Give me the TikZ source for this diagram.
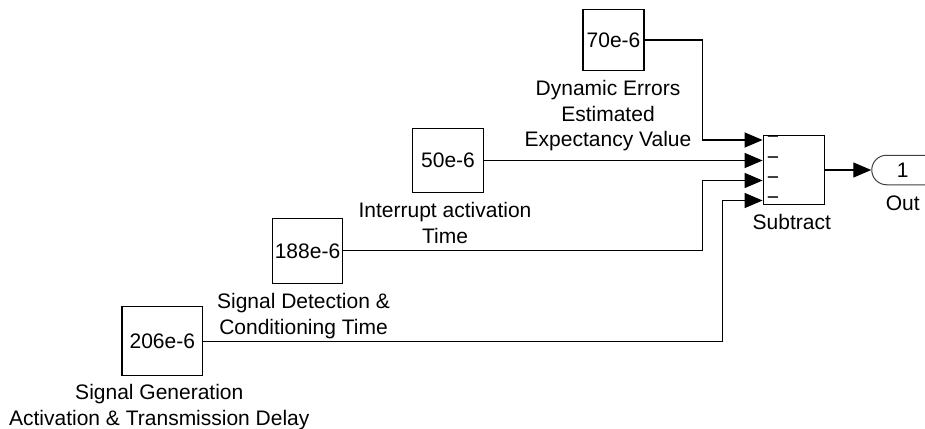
\documentclass[tikz,border=0pt]{standalone}
\usepackage{fontspec}
\setmainfont{Liberation Sans}
\usetikzlibrary{arrows.meta,calc,shapes.misc}
\begin{document}
\begin{tikzpicture}[x=1pt,y=-1pt,
  txt/.style={font=\fontsize{21}{25.6}\selectfont, text=black},
  blk/.style={txt, draw, line width=1.4pt, inner sep=0pt},
  lbl/.style={txt, align=center, anchor=north, inner sep=0pt},
  sig/.style={line width=1.3pt, -{Triangle[length=18pt,width=15pt]}},
  sgn/.style={txt, inner sep=0pt},
  port/.style={txt, draw=black!75, line width=1pt, shape=rounded rectangle,
    rounded rectangle right arc=none, minimum width=60pt,
    minimum height=29.5pt, inner sep=0pt}]

% canvas
\path[use as bounding box] (0,0) rectangle (925,428);
\fill[white] (0,0) rectangle (925,428);
\clip (0,0) rectangle (925,428);

% constant blocks
\node[blk, minimum width=61pt,   minimum height=61pt]   (c70)  at (613.5,40)    {70e-6};
\node[blk, minimum width=70.6pt, minimum height=64.4pt] (c50)  at (448,160.5)   {50e-6};
\node[blk, minimum width=70.4pt, minimum height=65pt]   (c188) at (307.5,250.8) {188e-6};
\node[blk, minimum width=80.7pt, minimum height=69pt]   (c206) at (162.3,341.2) {206e-6};

% block names
\node[lbl] (c70lbl)  at ([xshift=-5.5pt,yshift=-9pt]c70.south)  {Dynamic Errors\\Estimated\\Expectancy Value};
\node[lbl] (c50lbl)  at ([xshift=-3pt,yshift=-9pt]c50.south)    {Interrupt activation\\Time};
\node[lbl] (c188lbl) at ([xshift=-4pt,yshift=-9pt]c188.south)   {Signal Detection \&\\Conditioning Time};
\node[lbl] (c206lbl) at ([xshift=-3pt,yshift=-8pt]c206.south)   {Signal Generation\\Activation \& Transmission Delay};

% subtract block with its four inputs
\node[blk, minimum width=61pt, minimum height=68.5pt] (sub) at (793.8,170) {};
\node[lbl] (sublbl) at ([xshift=-2pt,yshift=-9.5pt]sub.south) {Subtract};
\coordinate (in1) at (sub.west |- 0,140);
\coordinate (in2) at (sub.west |- c50.east);
\coordinate (in3) at (sub.west |- 0,180.5);
\coordinate (in4) at (sub.west |- 0,200.5);
\node[sgn] (m1) at ([xshift=10.5pt]in1) {−};
\node[sgn] (m2) at ([xshift=10.5pt]in2) {−};
\node[sgn] (m3) at ([xshift=10.5pt]in3) {−};
\node[sgn] (m4) at ([xshift=10.5pt]in4) {−};

% output port
\node[port] (out) at (902.7,170) {1};
\node[lbl] (outlbl) at ([yshift=-10pt]out.south) {Out};

% signal lines
\draw[sig] (c70.east)  -| ($(in1)+(-60,0)$) -- (in1);
\draw[sig] (c50.east)  -- (in2);
\draw[sig] (c188.east) -| ($(in3)+(-60,0)$) -- (in3);
\draw[sig] (c206.east) -| ($(in4)+(-40,0)$) -- (in4);
\draw[sig] (sub.east)  -- (out.west);
\end{tikzpicture}
\end{document}
